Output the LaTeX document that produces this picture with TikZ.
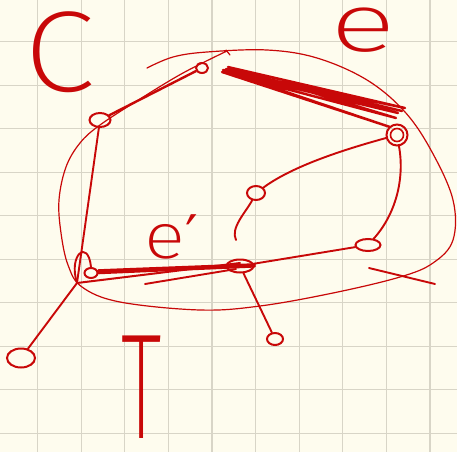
\documentclass[tikz,border=0pt]{standalone}
\usepackage{fontspec}
\usetikzlibrary{shapes.geometric}
\newfontfamily\hand{Fira Sans ExtraLight}
\newfontfamily\handwide{Fira Sans ExtraLight}[FakeStretch=1.5]
\newfontfamily\handmid{Fira Sans ExtraLight}[FakeStretch=1.2]
\newfontfamily\handC{Fira Sans ExtraLight}[FakeStretch=1.12]
\newfontfamily\handnarrow{Fira Sans ExtraLight}[FakeStretch=0.55]
\newfontfamily\djv{DejaVu Sans}
\definecolor{ink}{RGB}{200,8,8}
\definecolor{paper}{RGB}{254,252,238}
\definecolor{gridc}{RGB}{216,213,199}
\begin{document}
\begin{tikzpicture}[x=1pt,y=-1pt,
  pen/.style={draw=ink,line width=1.9pt,line cap=round,line join=round},
  thinpen/.style={draw=ink,line width=1.2pt,line cap=round,line join=round},
  heavy/.style={draw=ink,line width=2.4pt,line cap=round,line join=round},
  vtx/.style={draw=ink,line width=2pt,ellipse,inner sep=0pt},
  lbl/.style={text=ink,inner sep=0pt,font=\hand}]
\fill[paper] (0,0) rectangle (457,452);
\useasboundingbox (0,0) rectangle (457,452);
\foreach \k in {0,...,9} {
  \draw[gridc,line width=1.2pt] ({37.6+43.6*\k},0) -- ({37.6+43.6*\k},452);
  \draw[gridc,line width=1.2pt] (0,{41.7+43.5*\k}) -- (457,{41.7+43.5*\k});
}
% labels
\node[lbl,font=\handC\fontsize{115}{115}\selectfont] (lC) at (60,52) {C};
\node[lbl,font=\handwide\fontsize{82}{82}\selectfont] (le) at (363,30) {e};
\node[lbl,font=\handmid\fontsize{64}{64}\selectfont,anchor=base west] (le2) at (144,258) {e\raisebox{3pt}{\djv\fontsize{56}{56}\selectfont ′}};
\node[lbl,font=\handnarrow\fontsize{150}{150}\selectfont] (lT) at (142,387) {T};
% vertices
\node[vtx,minimum width=12pt,minimum height=10pt] (a) at (202,68) {};
\node[vtx,minimum width=21pt,minimum height=14pt] (b) at (100,120) {};
\node[vtx,circle,minimum size=21pt] (c) at (397,135) {};
\node[vtx,minimum width=18pt,minimum height=14pt] (d) at (256,193) {};
\node[vtx,minimum width=25pt,minimum height=12pt] (e) at (368,245) {};
\node[vtx,minimum width=27pt,minimum height=13pt] (f) at (240,266) {};
\node[vtx,minimum width=13pt,minimum height=10pt] (g) at (91,273) {};
\node[vtx,minimum width=28pt,minimum height=19pt] (h) at (21,358) {};
\node[vtx,minimum width=16pt,minimum height=12pt] (i) at (275,339) {};
\draw[ink,line width=1.6pt] (c.center) circle (6.5pt);
% free ends
\coordinate (j) at (77,283);
\coordinate (dt) at (236,240);
\coordinate (x1) at (369,268);
\coordinate (x2) at (435,284);
\coordinate (u1) at (145,284);
\coordinate (u2) at (236,269);
% edge e (scribbled)
\draw[heavy] (223,70) -- (405,108) -- (228,67) -- (396,118) -- (222,72) -- (390,127) -- (230,73) -- (398,113) -- (226,69) -- (402,111);
% edge e' (scribbled)
\draw[ink,line width=3.2pt,line cap=round] (g) -- (f.east);
\draw[ink,line width=2.6pt,line cap=round] ([yshift=2.5pt]g.east) -- ([yshift=1.5pt]f.east);
\draw[ink,line width=2pt,line cap=round] (j) -- ([yshift=3pt]f.center);
\draw[pen] (u1) -- (u2);
% other edges
\draw[heavy] (b) -- (a);
\draw[pen] (c) .. controls (405,180) and (395,215) .. (e);
\draw[pen] (c) .. controls (335,152) and (290,168) .. (d);
\draw[pen] (d) .. controls (246,212) and (230,228) .. (dt);
\draw[pen] (e) -- (f);
\draw[pen] (b) -- (j);
\draw[pen] (j) -- (h);
\draw[pen] (f) -- (i);
\draw[pen] (j) .. controls (68,255) and (88,238) .. (g.north);
\draw[pen] (x1) -- (x2);
% big loop C
\draw[thinpen] plot[smooth,tension=0.6] coordinates {(147,68) (173,57) (207,52) (267,50) (317,58) (367,80) (405,112) (432,152) (453,200) (453,240) (433,263) (400,277) (333,293) (260,306) (200,310) (120,302) (82,287) (68,265) (61,233) (59,200) (66,167) (80,143) (100,125) (140,99) (183,73) (227,51)};
\draw[thinpen] (226,50) -- (230,55);
\end{tikzpicture}
\end{document}
